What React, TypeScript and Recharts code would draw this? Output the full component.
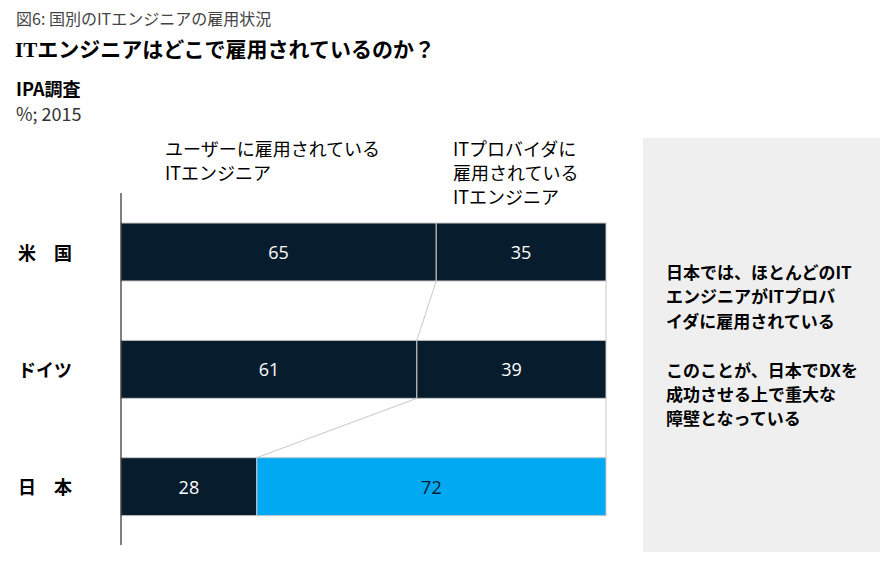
import React from "react";
import { BarChart, Bar, XAxis, YAxis, LabelList } from "recharts";

// ---- data ----
const countries = ["米　国", "ドイツ", "日　本"];
const userShare = [65, 61, 28];
const providerShare = [35, 39, 72];
const highlightCountry = "日　本";

const headerUser = ["ユーザーに雇用されている", "ITエンジニア"];
const headerProvider = ["ITプロバイダに", "雇用されている", "ITエンジニア"];
const figLabel = "図6: 国別のITエンジニアの雇用状況";
const title = "ITエンジニアはどこで雇用されているのか？";
const sourceLabel = "IPA調査";
const unitLabel = "%; 2015";
const noteLines = [
  "日本では、ほとんどのIT",
  "エンジニアがITプロバ",
  "イダに雇用されている",
  "",
  "このことが、日本でDXを",
  "成功させる上で重大な",
  "障壁となっている",
];

const data = countries.map((c, i) => ({
  country: c,
  user: userShare[i],
  provider: providerShare[i],
}));

// ---- layout ----
const W = 893;
const H = 568;
const MARGIN = { top: 193, right: 287, bottom: 23, left: 0 };
const Y_W = 121;
const STEP = (H - MARGIN.top - MARGIN.bottom) / countries.length;
const DARK = "#071d2e";
const BLUE = "#00a9f1";
const EDGE = "#c9c9c9";
const JP = '"Noto Sans CJK JP", "Noto Sans", sans-serif';
const NUM = '"Open Sans", "Noto Sans CJK JP", sans-serif';

const UserShape = (props: any) => {
  const { x, y, width, height, index } = props;
  const els: React.ReactNode[] = [];
  els.push(
    <rect key="r" x={x} y={y} width={width} height={height} fill={DARK} stroke={EDGE} strokeWidth={1} />
  );
  if (index < userShare.length - 1) {
    const k = width / userShare[index];
    const nx = x + userShare[index + 1] * k;
    els.push(
      <line key="c" x1={x + width} y1={y + height} x2={nx} y2={y + STEP} stroke={EDGE} strokeWidth={1} />
    );
  }
  return <g>{els}</g>;
};

const ProviderShape = (props: any) => {
  const { x, y, width, height, index, payload } = props;
  const hl = payload && payload.country === highlightCountry;
  return (
    <g>
      <rect x={x} y={y} width={width} height={height} fill={hl ? BLUE : DARK} stroke={EDGE} strokeWidth={1} />
      {index < providerShare.length - 1 ? (
        <line x1={x + width} y1={y + height} x2={x + width} y2={y + STEP} stroke={EDGE} strokeWidth={1} />
      ) : null}
    </g>
  );
};

const makeLabel = (series: "user" | "provider") => (props: any) => {
  const { x, y, width, height, value, index } = props;
  const hl = series === "provider" && countries[index] === highlightCountry;
  return (
    <text
      x={x + width / 2}
      y={y + height / 2}
      textAnchor="middle"
      dominantBaseline="central"
      fill={hl ? DARK : "#ffffff"}
      fontSize={18}
      fontFamily={NUM}
    >
      {value}
    </text>
  );
};

const CountryTick = (props: any) => {
  const { y, payload } = props;
  return (
    <text x={18} y={y} dominantBaseline="central" fontSize={18} fontWeight={700} fill="#000" fontFamily={JP}>
      {payload.value}
    </text>
  );
};

export default function App() {
  return (
    <div style={{ position: "absolute", left: 0, top: 0, width: W, height: H, background: "#fff", fontFamily: JP, color: "#000" }}>
      <div style={{ position: "absolute", left: 16, top: 7, fontSize: 16, lineHeight: "22px", color: "#444", whiteSpace: "nowrap" }}>
        {figLabel}
      </div>
      <div
        style={{
          position: "absolute",
          left: 15,
          top: 36,
          fontSize: 21,
          lineHeight: "28px",
          fontWeight: 700,
          fontFamily: '"Liberation Serif", "DejaVu Serif", "Noto Sans CJK JP", serif',
          whiteSpace: "nowrap",
        }}
      >
        {title}
      </div>
      <div style={{ position: "absolute", left: 16, top: 76, fontSize: 18, lineHeight: "24px", fontWeight: 700, whiteSpace: "nowrap" }}>
        {sourceLabel}
      </div>
      <div style={{ position: "absolute", left: 16, top: 101, fontSize: 18, lineHeight: "24px", color: "#333", whiteSpace: "nowrap" }}>
        {unitLabel}
      </div>
      <div style={{ position: "absolute", left: 165, top: 136, fontSize: 18, lineHeight: "24px", whiteSpace: "nowrap" }}>
        {headerUser.map((l, i) => (
          <div key={i}>{l}</div>
        ))}
      </div>
      <div style={{ position: "absolute", left: 453, top: 136, fontSize: 18, lineHeight: "24px", whiteSpace: "nowrap" }}>
        {headerProvider.map((l, i) => (
          <div key={i}>{l}</div>
        ))}
      </div>
      <div style={{ position: "absolute", left: 643, top: 138, width: 237, height: 414, background: "#efefef" }} />
      <div style={{ position: "absolute", left: 666, top: 260, fontSize: 17, lineHeight: "24.4px", fontWeight: 700, whiteSpace: "nowrap" }}>
        {noteLines.map((l, i) => (
          <div key={i} style={{ height: 24.4 }}>{l}</div>
        ))}
      </div>
      <div style={{ position: "absolute", left: 0, top: 0 }}>
        <BarChart width={W} height={H} data={data} layout="vertical" margin={MARGIN} barSize={58}>
          <XAxis type="number" domain={[0, 100]} hide />
          <YAxis
            type="category"
            dataKey="country"
            width={Y_W}
            axisLine={{ stroke: "#000", strokeWidth: 1 }}
            tickLine={false}
            tick={<CountryTick />}
          />
          <Bar dataKey="user" stackId="a" isAnimationActive={false} shape={<UserShape />}>
            <LabelList dataKey="user" content={makeLabel("user")} />
          </Bar>
          <Bar dataKey="provider" stackId="a" isAnimationActive={false} shape={<ProviderShape />}>
            <LabelList dataKey="provider" content={makeLabel("provider")} />
          </Bar>
        </BarChart>
      </div>
    </div>
  );
}
